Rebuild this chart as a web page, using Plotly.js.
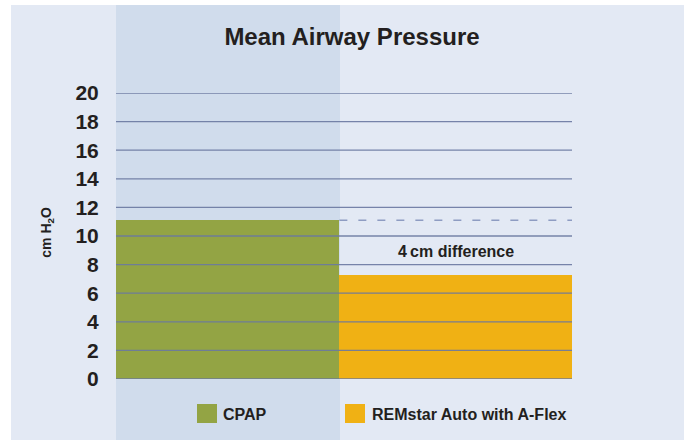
<!DOCTYPE html>
<html>
<head>
<meta charset="utf-8">
<script src="https://cdn.plot.ly/plotly-3.0.1.min.js"></script>
<style>html,body{margin:0;padding:0;background:#fff;}#chart{width:684px;height:440px;}</style>
</head>
<body>
<div id="chart"></div>
<script>
// ---- data ----
var categories = ["CPAP", "REMstar Auto with A-Flex"];
var meanPressure = [11.1, 7.3];
var barColors = ["#93a444", "#f0b114"];
var yTickValues = [0, 2, 4, 6, 8, 10, 12, 14, 16, 18, 20];
var yTickLabels = ["0", "2", "4", "6", "8", "10", "12", "14", "16", "18", "20"];
var chartTitle = "Mean Airway Pressure";
var yAxisTitle = "cm H<sub>2</sub>O";
var differenceLabel = "4\u2009cm difference";

var FONT = "Liberation Sans, Arial, Helvetica, sans-serif";
var TXT = "#231f20";
var GRID = "#6b79a1";

var traces = categories.map(function (c, i) {
  return {
    type: "bar",
    name: c,
    x: [i],
    y: [meanPressure[i]],
    width: [i === 0 ? 0.96 : 1],
    offset: [i === 0 ? -0.46 : -0.5],
    marker: { color: barColors[i], line: { width: 0 } },
    showlegend: false,
    hoverinfo: "skip"
  };
});

var shapes = [];
// page background and highlighted CPAP column
shapes.push({ type: "rect", xref: "paper", yref: "paper", x0: -0.2303, x1: 1.2456, y0: -0.22, y1: 1.3077,
  fillcolor: "#e3e9f4", line: { width: 0 }, layer: "below" });
shapes.push({ type: "rect", xref: "paper", yref: "paper", x0: 0, x1: 0.4912, y0: -0.22, y1: 1.3077,
  fillcolor: "#d0dcec", line: { width: 0 }, layer: "below" });
// gridlines drawn above bars
yTickValues.forEach(function (v) {
  shapes.push({ type: "line", xref: "paper", yref: "y", x0: 0, x1: 1, y0: v, y1: v,
    line: { color: GRID, width: 1.3 }, opacity: 0.9, layer: "above" });
});
// dashed reference line at CPAP level over REMstar column
shapes.push({ type: "line", xref: "x", yref: "y", x0: 0.5, x1: 1.5, y0: meanPressure[0], y1: meanPressure[0],
  line: { color: "#8e9cc2", width: 1.5, dash: "8px,11px" }, layer: "above" });
// legend squares
var legendX = [0.1776, 0.5022];
categories.forEach(function (c, i) {
  shapes.push({ type: "rect", xref: "paper", yref: "paper", x0: legendX[i], x1: legendX[i] + 0.0439,
    y0: -0.1538, y1: -0.0874, fillcolor: barColors[i], line: { width: 0 } });
});

var annotations = [
  { text: differenceLabel, xref: "x", yref: "paper", x: 1, y: (379 - 251) / 286, showarrow: false,
    xanchor: "center", yanchor: "middle", font: { family: FONT, size: 16, color: TXT, weight: "bold" } },
  { text: yAxisTitle, xref: "paper", yref: "paper", x: (46.7 - 116) / 456, y: (379 - 232) / 286,
    textangle: -90, showarrow: false, xanchor: "center", yanchor: "middle",
    font: { family: FONT, size: 14, color: TXT, weight: "bold" } }
];
var legendTextX = [0.2296, 0.557];
categories.forEach(function (c, i) {
  annotations.push({ text: c, xref: "paper", yref: "paper", x: legendTextX[i], y: (379 - 414) / 286,
    showarrow: false, xanchor: "left", yanchor: "middle",
    font: { family: FONT, size: 16, color: TXT, weight: "bold" } });
});

var layout = {
  width: 684, height: 440,
  margin: { l: 116, r: 112, t: 93, b: 61, pad: 0 },
  paper_bgcolor: "#ffffff",
  plot_bgcolor: "rgba(0,0,0,0)",
  title: { text: chartTitle, x: 352 / 684, xanchor: "center", y: 1 - 37 / 440, yanchor: "middle",
    yref: "container", font: { family: FONT, size: 24, color: TXT, weight: "bold" } },
  xaxis: { range: [-0.46, 1.5], visible: false, fixedrange: true },
  yaxis: { range: [0, 20], tickvals: yTickValues, ticktext: yTickLabels, showgrid: false, zeroline: false,
    showline: false, ticks: "outside", ticklen: 12, tickcolor: "rgba(0,0,0,0)",
    tickfont: { family: FONT, size: 21, color: TXT, weight: "bold" }, fixedrange: true },
  bargap: 0,
  showlegend: false,
  shapes: shapes,
  annotations: annotations
};

Plotly.newPlot("chart", traces, layout, { displayModeBar: false, staticPlot: true });
</script>
</body>
</html>
